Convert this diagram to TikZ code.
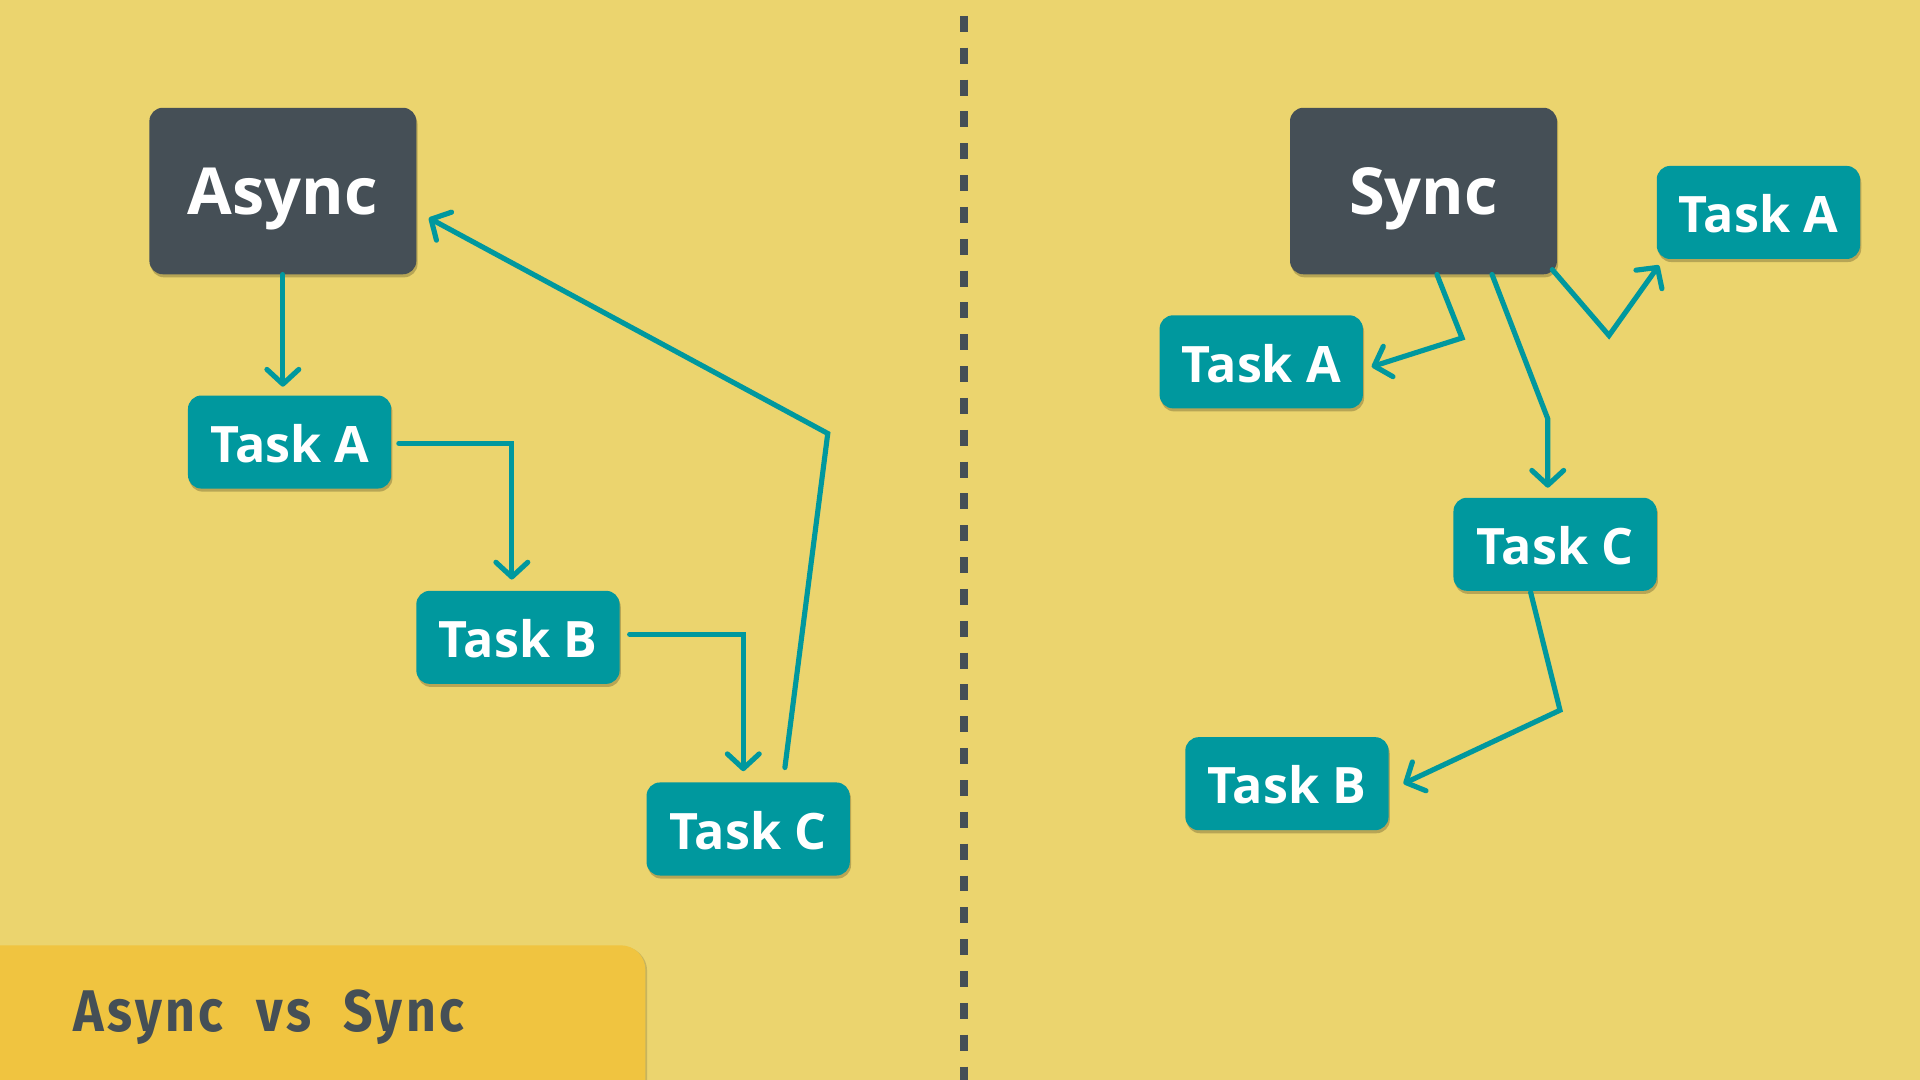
\documentclass[tikz,border=0pt]{standalone}
\usepackage{fontspec}
\setmainfont{Open Sans}
\newfontfamily\titlefont[FakeStretch=0.88,LetterSpace=6]{Fira Sans}
\usetikzlibrary{arrows.meta,shadows,calc}
\definecolor{bgc}{RGB}{235,212,110}
\definecolor{darkc}{RGB}{69,79,86}
\definecolor{tealc}{RGB}{0,152,158}
\definecolor{labc}{RGB}{240,196,64}
\tikzset{
  boxshadow/.style={drop shadow={shadow xshift=1pt,shadow yshift=-2.5pt,opacity=0.22,fill=black}},
  box/.style={rounded corners=11pt,inner sep=0pt,text=white,text depth=0pt,boxshadow},
  bigbox/.style={box,fill=darkc,minimum width=218pt,minimum height=136pt,
    text height=38.5pt,font=\fontsize{53}{60}\selectfont\bfseries},
  taskbox/.style={box,fill=tealc,minimum width=166pt,minimum height=76pt,
    text height=33pt,font=\fontsize{41}{48}\selectfont\bfseries},
  conn/.style={draw=tealc,line width=4.2pt,line cap=round,line join=miter,
    -{Straight Barb[length=12pt,width=26pt,round]}},
  divider/.style={draw=darkc,line width=6.5pt,dash pattern=on 13pt off 13pt,dash phase=13pt},
  titletext/.style={inner sep=0pt,text=darkc,text height=34pt,text depth=0pt,
    font=\titlefont\fontsize{48}{56}\selectfont\bfseries}
}
\begin{document}
\begin{tikzpicture}[x=1pt,y=-1pt]
\fill[bgc] (0,0) rectangle (1568,882);
\useasboundingbox (0,0) rectangle (1568,882);
\clip (0,0) rectangle (1568,882);

% divider
\coordinate (dtop) at (787,0);
\coordinate (dbot) at (787,882);
\draw[divider] (dtop) -- (dbot);

% title band
\fill[labc,rounded corners=20pt,drop shadow={shadow xshift=1.5pt,shadow yshift=-1pt,opacity=0.15,fill=black}]
  (-40,772) -- (527,772) -- (527,930) -- (-40,930) -- cycle;
\node[titletext,anchor=west] (title) at (60,825) {Async\hspace{27pt}vs\hspace{26pt}Sync};

% left side
\node[bigbox] (async) at (231,156) {Async};
\node[taskbox] (tA) at (236.5,361) {Task A};
\node[taskbox] (tB) at (423,520.5) {Task B};
\node[taskbox] (tC) at (611,677) {Task C};

\draw[conn] (async.south) -- ($(async.south |- tA.north)+(0,-7)$);
\draw[conn] ($(tA.east)+(6,1)$) -| ($(tB.north)+(-5,-9)$);
\draw[conn] ($(tB.east)+(8,-2.5)$) -| ($(tC.north)+(-4,-9)$);
\coordinate (k1) at (676,354);
\draw[conn] ($(tC.north)+(30,-12)$) -- (k1) -- ($(async.east)+(10,22)$);

% right side
\node[bigbox] (sync) at (1162.5,156) {Sync};
\node[taskbox] (rA) at (1436,173.5) {Task A};
\node[taskbox] (lA) at (1030,295.5) {Task A};
\node[taskbox] (rC) at (1270,444.5) {Task C};
\node[taskbox] (rB) at (1051,640) {Task B};

\coordinate (k2) at (1194,276);
\draw[conn] ($(sync.south)+(11,0)$) -- (k2) -- ($(lA.east)+(7,4)$);
\coordinate (k3) at (1264,342);
\draw[conn] ($(sync.south)+(56,0)$) -- (k3) -- ($(rC.north)+(-6,-8)$);
\coordinate (k4) at (1314,274);
\draw[conn] ($(sync.south east)+(-4,-4)$) -- (k4) -- ($(rA.south west)+(2,5)$);
\coordinate (k5) at (1274,580);
\draw[conn] ($(rC.south)+(-20,1)$) -- (k5) -- ($(rB.east)+(12,0)$);
\end{tikzpicture}
\end{document}
